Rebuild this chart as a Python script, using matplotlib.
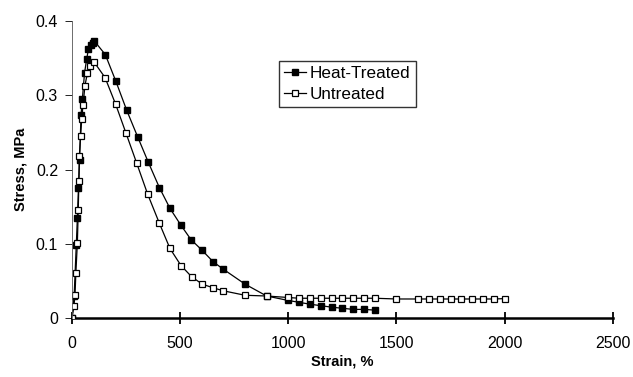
import matplotlib.pyplot as plt

plt.rcParams['font.family'] = ['Liberation Sans', 'DejaVu Sans']

# heat-treated sample (strain %, stress MPa)
heat_strain = [0, 10, 20, 25, 30, 35, 42, 48, 58, 68, 76, 86, 96, 104,
               154, 203, 253, 304, 353, 404, 453, 502, 550, 600, 653, 700,
               800, 900, 1000, 1050, 1100, 1150, 1200, 1250, 1300, 1350, 1400]
heat_stress = [0, 0.030, 0.099, 0.135, 0.175, 0.213, 0.274, 0.295, 0.330, 0.349,
               0.362, 0.368, 0.371, 0.373,
               0.355, 0.319, 0.280, 0.244, 0.210, 0.176, 0.148, 0.126, 0.106,
               0.092, 0.076, 0.066,
               0.046, 0.030, 0.024, 0.0215, 0.019, 0.017, 0.015, 0.0135, 0.012,
               0.012, 0.011]

# untreated sample
untr_strain = [0, 9, 14, 18, 25, 29, 32, 34, 40, 45, 51, 60, 71, 83, 102,
               153, 202, 250, 299, 350, 404, 453, 504, 553, 602, 653, 700,
               800, 900, 1000, 1050, 1100, 1150, 1200, 1250, 1300, 1350, 1400,
               1500, 1600, 1650, 1700, 1750, 1800, 1850, 1900, 1950, 2000]
untr_stress = [0, 0.0165, 0.031, 0.061, 0.102, 0.146, 0.185, 0.218, 0.245, 0.268,
               0.287, 0.313, 0.330, 0.339, 0.345,
               0.324, 0.288, 0.249, 0.209, 0.167, 0.128, 0.094, 0.071, 0.056,
               0.046, 0.041, 0.037,
               0.031, 0.030, 0.028, 0.027, 0.027, 0.027, 0.027, 0.027, 0.027,
               0.027, 0.027, 0.026, 0.026, 0.026, 0.026, 0.026, 0.026, 0.026,
               0.026, 0.026, 0.0265]

x_ticks = [0, 500, 1000, 1500, 2000, 2500]
y_ticks = [0, 0.1, 0.2, 0.3, 0.4]
y_tick_labels = ['0', '0.1', '0.2', '0.3', '0.4']

fig = plt.figure(figsize=(6.33, 3.77), dpi=100)
ax = fig.add_axes([0.1137, 0.1557, 0.968 - 0.1137, 0.944 - 0.1557])

ax.plot(heat_strain, heat_stress, color='black', lw=0.9, marker='s', ms=4.8,
        mfc='black', mec='black', label='Heat-Treated')
ax.plot(untr_strain, untr_stress, color='black', lw=0.9, marker='s', ms=4.8,
        mfc='white', mec='black', mew=0.9, label='Untreated')

ax.set_xlim(0, 2500)
ax.set_ylim(0, 0.4)
ax.set_xticks(x_ticks)
ax.set_yticks(y_ticks, y_tick_labels)

for s in ['top', 'right']:
    ax.spines[s].set_visible(False)
ax.spines['left'].set_linewidth(0.6)
ax.spines['left'].set_color('#555555')
ax.spines['bottom'].set_linewidth(1.8)
ax.spines['bottom'].set_zorder(0)

ax.tick_params(axis='x', direction='inout', length=9, width=1.3, labelsize=11.5, pad=8)
ax.tick_params(axis='y', direction='out', length=5, width=0.6, labelsize=11.5, pad=5)

ax.set_xlabel('Strain, %', fontsize=10.5, fontweight='bold', labelpad=3)
ax.set_ylabel('Stress, MPa', fontsize=10.5, fontweight='bold', labelpad=6)

leg = ax.legend(loc='upper left', bbox_to_anchor=(0.383, 0.865), fontsize=12.3,
                frameon=True, fancybox=False, edgecolor='black',
                handlelength=1.3, handletextpad=0.2, borderpad=0.3,
                labelspacing=0.35, borderaxespad=0)
leg.get_frame().set_linewidth(1.0)

fig.savefig('out.png', dpi=100)
